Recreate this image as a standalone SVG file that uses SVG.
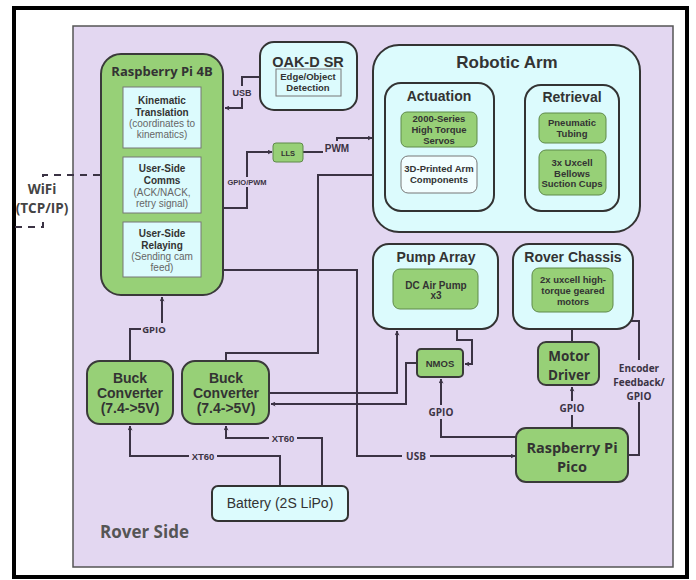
<svg xmlns="http://www.w3.org/2000/svg" width="696" height="580" viewBox="0 0 696 580">
<defs>
<marker id="arr" viewBox="0 0 10 10" refX="9" refY="5" markerWidth="5" markerHeight="5" orient="auto-start-reverse" markerUnits="userSpaceOnUse">
<path d="M0,0 L10,5 L0,10 L2.5,5 Z" fill="#3b3344"/>
</marker>
<style>
.lib{font-family:"Liberation Sans",Arial,sans-serif;}
.os{font-family:"Open Sans","Liberation Sans",sans-serif;}
.b{font-weight:bold;}
.t{fill:#333;text-anchor:middle;}
.g{fill:#666;text-anchor:middle;}
.green{fill:#97d077;stroke:#3a3a3a;stroke-width:2;}
.greeni{fill:#97d077;stroke:#5f8a4a;stroke-width:1;}
.cyan{fill:#dcfbfd;stroke:#333;stroke-width:2;}
.cyani{fill:#dcfbfd;stroke:#777;stroke-width:1;}
.wire{fill:none;stroke:#3b3344;stroke-width:2;}
.lbl{fill:#3b3344;text-anchor:middle;font-weight:bold;}
.bg{fill:#e3d7f1;}
</style>
</defs>
<rect x="0" y="0" width="696" height="580" fill="#fff"/>
<rect x="14" y="8" width="673" height="569" fill="#fff" stroke="#000" stroke-width="4"/>
<rect id="rover-side" x="73" y="26" width="600" height="541" fill="#e3d7f1" stroke="#555" stroke-width="1.5"/>
<text x="100" y="538" class="os b" font-size="17" fill="#555">Rover Side</text>

<g id="connectors">
<path class="wire" d="M100,175 H43 V227 H15" stroke-dasharray="7,6"/>
<path class="wire" d="M260,77 H242 V108 H225" marker-end="url(#arr)"/>
<path class="wire" d="M223,208 H247 V152 H272" marker-end="url(#arr)"/>
<path class="wire" d="M303,152 H337 V138 H372" marker-end="url(#arr)"/>
<path class="wire" d="M226,361 V353 H318 V175 H384" marker-end="url(#arr)"/>
<path class="wire" d="M223,270 H357 V456 H515" marker-end="url(#arr)"/>
<path class="wire" d="M130,361 V329 H162 V297" marker-end="url(#arr)"/>
<path class="wire" d="M280,486 V456 H130 V426" marker-end="url(#arr)"/>
<path class="wire" d="M322,486 V438 H226 V426" marker-end="url(#arr)"/>
<path class="wire" d="M269,393 H397 V331" marker-end="url(#arr)"/>
<path class="wire" d="M417,363 H406 V404 H271" marker-end="url(#arr)"/>
<path class="wire" d="M457,329 V340 H472 V364 H465" marker-end="url(#arr)"/>
<path class="wire" d="M516,437 H441 V379" marker-end="url(#arr)"/>
<path class="wire" d="M572,428 V387" marker-end="url(#arr)"/>
<path class="wire" d="M572,329 V342"/>
<path class="wire" d="M630,321 H639 V455 H628"/>
</g>

<g id="edge-labels">
<rect x="20" y="181" width="46" height="35" fill="#fff"/>
<text x="42" y="194" class="os b" font-size="13.5" fill="#444" text-anchor="middle">WiFi</text>
<text x="42" y="213" class="os b" font-size="13.5" fill="#444" text-anchor="middle">(TCP/IP)</text>
<rect x="232" y="86" width="20" height="12" class="bg"/>
<text x="242" y="96" class="lib lbl" font-size="9">USB</text>
<rect x="228" y="177" width="38" height="10" class="bg"/>
<text x="247" y="185" class="lib lbl" font-size="7.5">GPIO/PWM</text>
<rect x="323" y="141" width="28" height="14" class="bg"/>
<text x="337" y="152" class="lib lbl" font-size="10">PWM</text>
<rect x="141" y="323" width="26" height="12" class="bg"/>
<text x="154" y="333" class="os lbl" font-size="9.5">GPIO</text>
<rect x="189" y="450" width="28" height="12" class="bg"/>
<text x="203" y="460" class="lib lbl" font-size="9.5">XT60</text>
<rect x="269" y="432" width="28" height="12" class="bg"/>
<text x="283" y="442" class="lib lbl" font-size="9.5">XT60</text>
<rect x="402" y="450" width="28" height="12" class="bg"/>
<text x="416" y="460" class="os lbl" font-size="10">USB</text>
<rect x="427" y="405" width="28" height="14" class="bg"/>
<text x="441" y="416" class="os lbl" font-size="10">GPIO</text>
<rect x="558" y="401" width="28" height="14" class="bg"/>
<text x="572" y="412" class="os lbl" font-size="10">GPIO</text>
<rect x="612" y="360" width="54" height="42" class="bg"/>
<text x="639" y="372" class="os lbl" font-size="10">Encoder</text>
<text x="639" y="386" class="os lbl" font-size="10">Feedback/</text>
<text x="639" y="400" class="os lbl" font-size="10">GPIO</text>
</g>

<g id="rpi4">
<rect x="101" y="54" width="122" height="241" rx="20" class="green"/>
<text x="162" y="76" class="os b t" font-size="13">Raspberry Pi 4B</text>
</g>
<g id="kinematic">
<rect x="123" y="87" width="78" height="61" class="cyani"/>
<text x="162" y="104" class="lib b t" font-size="10">Kinematic</text>
<text x="162" y="116" class="lib b t" font-size="10">Translation</text>
<text x="162" y="127" class="lib g" font-size="10">(coordinates to</text>
<text x="162" y="138" class="lib g" font-size="10">kinematics)</text>
</g>
<g id="comms">
<rect x="123" y="157" width="78" height="56" class="cyani"/>
<text x="162" y="172" class="lib b t" font-size="10">User-Side</text>
<text x="162" y="184" class="lib b t" font-size="10">Comms</text>
<text x="162" y="195.5" class="lib g" font-size="10">(ACK/NACK,</text>
<text x="162" y="206.5" class="lib g" font-size="10">retry signal)</text>
</g>
<g id="relaying">
<rect x="123" y="222" width="78" height="55" class="cyani"/>
<text x="162" y="237" class="lib b t" font-size="10">User-Side</text>
<text x="162" y="248.5" class="lib b t" font-size="10">Relaying</text>
<text x="162" y="260" class="lib g" font-size="10">(Sending cam</text>
<text x="162" y="271" class="lib g" font-size="10">feed)</text>
</g>

<g id="oakd">
<rect x="260" y="42" width="97" height="68" rx="14" class="cyan"/>
<text x="308" y="67" class="lib b t" font-size="14.5">OAK-D SR</text>
<rect x="276" y="69" width="65" height="27" class="cyani"/>
<text x="308" y="80" class="lib b t" font-size="9.5">Edge/Object</text>
<text x="308" y="91" class="lib b t" font-size="9.5">Detection</text>
</g>

<g id="lls">
<rect x="273" y="143" width="30" height="19" rx="3" class="greeni"/>
<text x="288" y="155.5" class="lib b t" font-size="7.5">LLS</text>
</g>

<g id="robotic-arm">
<rect x="373" y="45" width="267" height="187" rx="26" class="cyan"/>
<text x="507" y="68" class="lib b t" font-size="17">Robotic Arm</text>
</g>
<g id="actuation">
<rect x="385" y="83" width="109" height="128" rx="16" class="cyan"/>
<text x="439" y="101" class="lib b t" font-size="14">Actuation</text>
</g>
<g id="servos">
<rect x="401" y="112" width="76" height="35" rx="6" class="greeni"/>
<text x="439" y="122" class="lib b t" font-size="9.5">2000-Series</text>
<text x="439" y="133" class="lib b t" font-size="9.5">High Torque</text>
<text x="439" y="144" class="lib b t" font-size="9.5">Servos</text>
</g>
<g id="arm-components">
<rect x="401" y="156" width="76" height="37" rx="7" fill="#f2feff" stroke="#777" stroke-width="1"/>
<text x="439" y="172" class="lib b t" font-size="9.5">3D-Printed Arm</text>
<text x="439" y="183" class="lib b t" font-size="9.5">Components</text>
</g>
<g id="retrieval">
<rect x="525" y="85" width="94" height="126" rx="16" class="cyan"/>
<text x="572" y="102" class="lib b t" font-size="14">Retrieval</text>
</g>
<g id="tubing">
<rect x="539" y="113" width="67" height="30" rx="6" class="greeni"/>
<text x="572" y="126" class="lib b t" font-size="9.5">Pneumatic</text>
<text x="572" y="137" class="lib b t" font-size="9.5">Tubing</text>
</g>
<g id="suction">
<rect x="539" y="150" width="67" height="45" rx="7" class="greeni"/>
<text x="572" y="166" class="lib b t" font-size="9.5">3x Uxcell</text>
<text x="572" y="177" class="lib b t" font-size="9.5">Bellows</text>
<text x="572" y="187" class="lib b t" font-size="9.5">Suction Cups</text>
</g>

<g id="pump-array">
<rect x="373" y="244" width="125" height="85" rx="16" class="cyan"/>
<text x="436" y="262" class="lib b t" font-size="14">Pump Array</text>
<rect x="393" y="269" width="85" height="40" rx="7" class="greeni"/>
<text x="436" y="289" class="lib b t" font-size="10">DC Air Pump</text>
<text x="436" y="299" class="lib b t" font-size="10">x3</text>
</g>

<g id="rover-chassis">
<rect x="513" y="244" width="120" height="85" rx="16" class="cyan"/>
<text x="573" y="262" class="lib b t" font-size="14">Rover Chassis</text>
<rect x="532" y="268" width="81" height="44" rx="7" class="greeni"/>
<text x="573" y="283" class="lib b t" font-size="9.5">2x uxcell high-</text>
<text x="573" y="294" class="lib b t" font-size="9.5">torque geared</text>
<text x="573" y="305" class="lib b t" font-size="9.5">motors</text>
</g>

<g id="nmos">
<rect x="417" y="349" width="46" height="28" rx="4" class="green"/>
<text x="440" y="366.5" class="lib b t" font-size="9.5">NMOS</text>
</g>

<g id="motor-driver">
<rect x="538" y="342" width="61" height="43" rx="8" class="green"/>
<text x="569" y="361" class="os b t" font-size="13.5">Motor</text>
<text x="569" y="380" class="os b t" font-size="13.5">Driver</text>
</g>

<g id="pico">
<rect x="516" y="428" width="112" height="54" rx="10" class="green"/>
<text x="572" y="453" class="os b t" font-size="14.5">Raspberry Pi</text>
<text x="572" y="472" class="os b t" font-size="14.5">Pico</text>
</g>

<g id="buck1">
<rect x="87" y="361" width="86" height="63" rx="13" class="green"/>
<text x="130" y="383" class="lib b t" font-size="14">Buck</text>
<text x="130" y="398" class="lib b t" font-size="14">Converter</text>
<text x="130" y="413" class="lib b t" font-size="14">(7.4-&gt;5V)</text>
</g>
<g id="buck2">
<rect x="182" y="361" width="87" height="63" rx="13" class="green"/>
<text x="226" y="383" class="lib b t" font-size="14">Buck</text>
<text x="226" y="398" class="lib b t" font-size="14">Converter</text>
<text x="226" y="413" class="lib b t" font-size="14">(7.4-&gt;5V)</text>
</g>

<g id="battery">
<rect x="212" y="486" width="136" height="35" rx="6" class="cyan"/>
<text x="280" y="508" class="lib t" font-size="14" font-weight="500">Battery (2S LiPo)</text>
</g>
</svg>
